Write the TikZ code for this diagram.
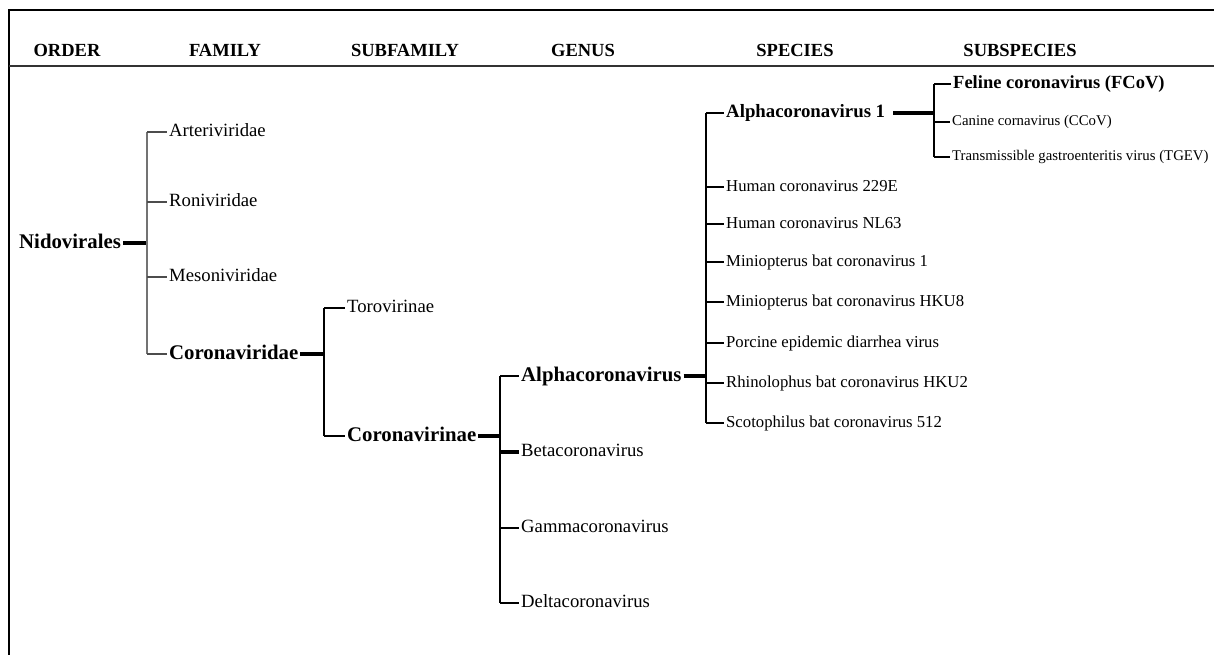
\documentclass[tikz,border=0pt]{standalone}
\usepackage{fontspec}
\setmainfont{Liberation Serif}
\begin{document}
\begin{tikzpicture}[x=1pt,y=-1pt,
  lab/.style={inner xsep=2pt, inner ysep=0pt, text height=13pt, text depth=3.7pt, anchor=west, font=\fontsize{18.7}{20}\selectfont},
  blab/.style={lab, text height=14.5pt, text depth=4.2pt, font=\fontsize{20.8}{22}\selectfont\bfseries},
  b18lab/.style={lab, text height=13.2pt, text depth=3.8pt, font=\fontsize{18.8}{20}\selectfont\bfseries},
  slab/.style={lab, text height=11.7pt, text depth=3.3pt, font=\fontsize{16.7}{18}\selectfont},
  fslab/.style={lab, text height=13pt, text depth=3.7pt, font=\fontsize{18.5}{20}\selectfont\bfseries},
  sslab/.style={lab, text height=10.4pt, text depth=3pt, font=\fontsize{14.8}{16}\selectfont},
  hdr/.style={anchor=base, inner sep=0pt, font=\fontsize{18.5}{20}\selectfont\bfseries},
  bar/.style={line width=1.8pt, black},
  gbar/.style={line width=1.4pt, black!55},
  stub/.style={line width=1.5pt, black},
  gstub/.style={line width=1.4pt, black!70},
  tstub/.style={line width=3.2pt, black},
]
\useasboundingbox (0,0) rectangle (1214,655);
% frame
\draw[line width=2.6pt] (9,655) -- (9,10) -- (1214,10);
\draw[line width=1.5pt, black!80] (9,66) -- (1214,66);
% headers
\node[hdr] (hOrder) at (67,57) {ORDER};
\node[hdr] (hFamily) at (225,57) {FAMILY};
\node[hdr] (hSub) at (405,57) {SUBFAMILY};
\node[hdr] (hGenus) at (583,57) {GENUS};
\node[hdr] (hSpecies) at (795,57) {SPECIES};
\node[hdr] (hSubsp) at (1020,57) {SUBSPECIES};
% order
\node[blab] (nido) at (17,243) {Nidovirales};
% family
\node[lab] (arter) at (167,132) {Arteriviridae};
\node[lab] (roni) at (167,202) {Roniviridae};
\node[lab] (meso) at (167,277) {Mesoniviridae};
\node[blab] (corvir) at (167,354) {Coronaviridae};
% subfamily
\node[lab] (toro) at (345,308) {Torovirinae};
\node[blab] (cvinae) at (345,436) {Coronavirinae};
% genus
\node[blab] (alpha) at (519,376) {Alphacoronavirus};
\node[lab] (beta) at (519,452) {Betacoronavirus};
\node[lab] (gamma) at (519,528) {Gammacoronavirus};
\node[lab] (delta) at (519,603) {Deltacoronavirus};
% species
\node[b18lab] (alphaone) at (724,113) {Alphacoronavirus 1};
\node[slab] (hcovE) at (724,187) {Human coronavirus 229E};
\node[slab] (hcovNL) at (724,224) {Human coronavirus NL63};
\node[slab] (minione) at (724,262) {Miniopterus bat coronavirus 1};
\node[slab] (minihku) at (724,302) {Miniopterus bat coronavirus HKU8};
\node[slab] (pedv) at (724,343) {Porcine epidemic diarrhea virus};
\node[slab] (rhino) at (724,383) {Rhinolophus bat coronavirus HKU2};
\node[slab] (scoto) at (724,423) {Scotophilus bat coronavirus 512};
% subspecies
\node[fslab] (fcov) at (951,84) {Feline coronavirus (FCoV)};
\node[sslab] (ccov) at (950,122) {Canine cornavirus (CCoV)};
\node[sslab] (tgev) at (950,157) {Transmissible gastroenteritis virus (TGEV)};
% bars
\coordinate (fb) at (147,0);
\coordinate (sfb) at (324,0);
\coordinate (gb) at (500,0);
\coordinate (spb) at (706,0);
\coordinate (ssb) at (934,0);
% family bracket
\draw[tstub] (nido.east) -- (fb |- nido.east);
\draw[gbar] (fb |- arter.west) -- (fb |- corvir.west);
\foreach \n in {arter,roni,meso,corvir} \draw[gstub] (fb |- \n.west) -- (\n.west);
% subfamily bracket
\draw[tstub] (corvir.east) -- (sfb |- corvir.east);
\draw[bar] (sfb |- toro.west) -- (sfb |- cvinae.west);
\foreach \n in {toro,cvinae} \draw[stub] (sfb |- \n.west) -- (\n.west);
% genus bracket
\draw[tstub] (cvinae.east) -- (gb |- cvinae.east);
\draw[bar] (gb |- alpha.west) -- (gb |- delta.west);
\foreach \n in {alpha,gamma,delta} \draw[stub] (gb |- \n.west) -- (\n.west);
\draw[tstub] (gb |- beta.west) -- (beta.west);
% species bracket
\draw[tstub] (alpha.east) -- (spb |- alpha.east);
\draw[bar] (spb |- alphaone.west) -- (spb |- scoto.west);
\foreach \n in {alphaone,hcovE,hcovNL,minione,minihku,pedv,rhino,scoto} \draw[stub] (spb |- \n.west) -- (\n.west);
% subspecies bracket
\draw[tstub] ([xshift=6pt]alphaone.east) -- (ssb |- alphaone.east);
\draw[bar] (ssb |- fcov.west) -- (ssb |- tgev.west);
\foreach \n in {fcov,ccov,tgev} \draw[stub] (ssb |- \n.west) -- (\n.west);
\end{tikzpicture}
\end{document}
